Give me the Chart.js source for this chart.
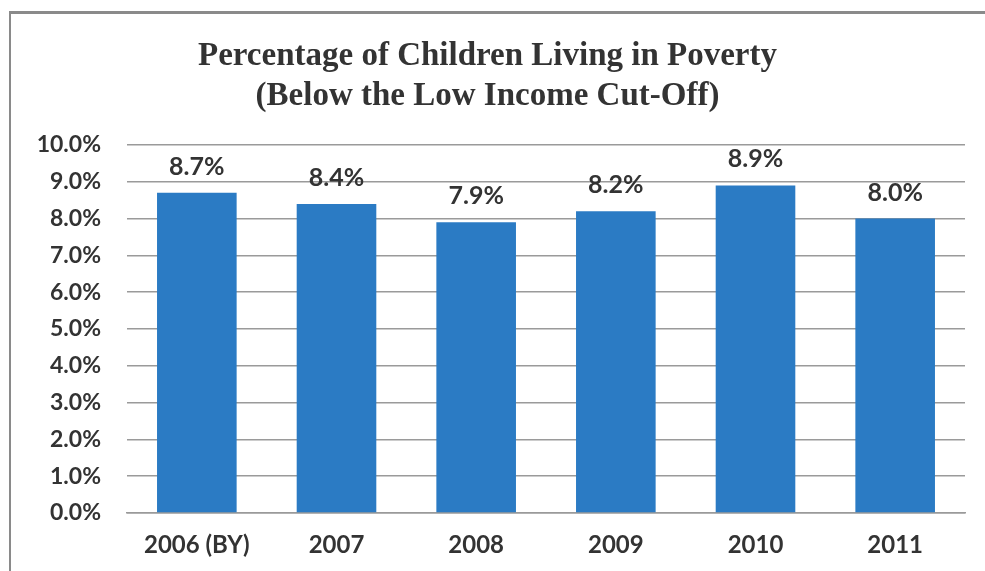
<!DOCTYPE html>
<html lang="en">
<head>
  <meta charset="UTF-8">
  <title>Percentage of Children Living in Poverty</title>
  <script src="https://cdn.jsdelivr.net/npm/chart.js"></script>
  <style>
    body {
      margin: 0;
      padding: 0;
      background: #fff;
    }
    .wrap {
      position: relative;
      width: 985px;
      height: 571px;
    }
    .frame {
      position: absolute;
      left: 9px;
      top: 11px;
      width: 980px;
      height: 570px;
      border-left: 2px solid #8a8a8a;
      border-top: 3px solid #8a8a8a;
    }
    canvas {
      position: absolute;
      left: 0;
      top: 0;
    }
  </style>
</head>
<body>
  <div class="wrap">
    <div class="frame"></div>
    <canvas id="myChart" width="985" height="571"></canvas>
  </div>

  <script>
    const years = ['2006 (BY)', '2007', '2008', '2009', '2010', '2011'];
    const poverty = [8.7, 8.4, 7.9, 8.2, 8.9, 8.0];
    const titleLines = ['Percentage of Children Living in Poverty', '(Below the Low Income Cut-Off)'];

    // draws the value above each bar
    const barLabels = {
      id: 'barLabels',
      afterDatasetsDraw(chart) {
        const ctx = chart.ctx;
        const meta = chart.getDatasetMeta(0);
        ctx.save();
        ctx.font = 'bold 25px Lato';
        ctx.fillStyle = '#333';
        ctx.textAlign = 'center';
        ctx.textBaseline = 'alphabetic';
        meta.data.forEach((bar, i) => {
          ctx.fillText(poverty[i].toFixed(1) + '%', bar.x, bar.y - 18);
        });
        ctx.restore();
      }
    };

    const ctx = document.getElementById('myChart').getContext('2d');
    const myChart = new Chart(ctx, {
      type: 'bar',
      data: {
        labels: years,
        datasets: [{
          data: poverty,
          backgroundColor: '#2b7bc4',
          borderWidth: 0,
          barPercentage: 0.57,
          categoryPercentage: 1.0
        }]
      },
      options: {
        responsive: false,
        animation: false,
        layout: {
          padding: { left: 10, right: 20, top: 10, bottom: 12 }
        },
        scales: {
          y: {
            min: 0,
            max: 10,
            ticks: {
              stepSize: 1,
              padding: 26,
              color: '#333',
              font: { family: 'Lato', size: 23, weight: 'bold' },
              callback: value => value.toFixed(1) + '%'
            },
            grid: {
              color: '#9a9a9a',
              lineWidth: 1.5,
              drawTicks: false
            },
            border: { display: false },
            afterFit: scale => { scale.width = 117; }
          },
          x: {
            ticks: {
              padding: 18,
              color: '#333',
              font: { family: 'Lato', size: 24, weight: 'bold' }
            },
            grid: { display: false, drawTicks: false },
            border: { display: true, color: '#9a9a9a', width: 1.5 },
            afterFit: scale => { scale.height = 46; }
          }
        },
        plugins: {
          legend: { display: false },
          tooltip: { enabled: false },
          title: {
            display: true,
            text: titleLines,
            color: '#333',
            font: { family: 'Liberation Serif', size: 33, weight: 'bold', lineHeight: 1.2 },
            padding: { top: 27, bottom: 28.8 }
          }
        }
      },
      plugins: [barLabels]
    });
  </script>
</body>
</html>
